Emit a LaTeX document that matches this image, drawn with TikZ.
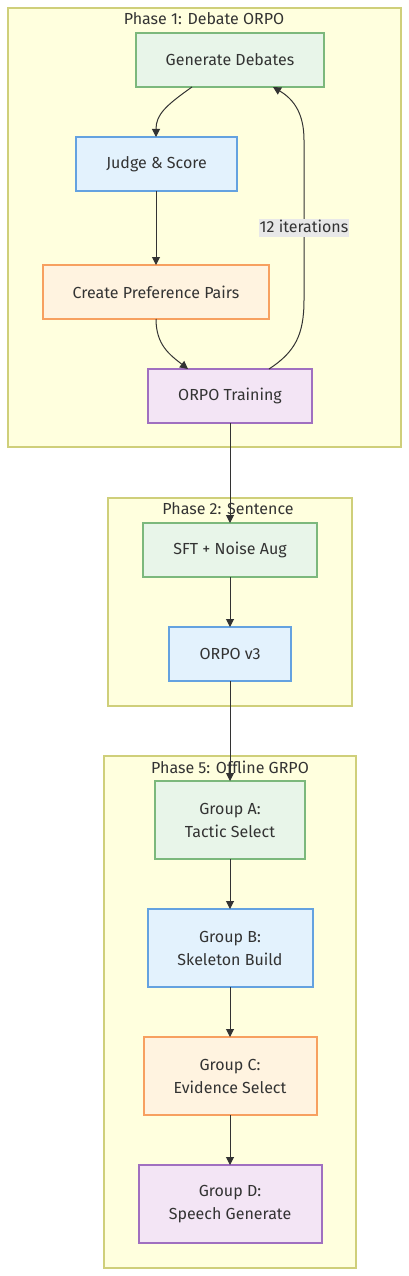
\documentclass[tikz,border=0pt]{standalone}
\usepackage{fontspec}
\setmainfont{Fira Sans}
\usetikzlibrary{arrows.meta}
\definecolor{clfill}{HTML}{FFFFDE}
\definecolor{cldraw}{HTML}{CFCF7A}
\definecolor{gfill}{HTML}{E8F5E9}
\definecolor{gdraw}{HTML}{7CB87C}
\definecolor{bfill}{HTML}{E3F2FD}
\definecolor{bdraw}{HTML}{64A2E0}
\definecolor{ofill}{HTML}{FFF3E0}
\definecolor{odraw}{HTML}{F7A060}
\definecolor{pfill}{HTML}{F3E5F5}
\definecolor{pdraw}{HTML}{A070C0}
\definecolor{txt}{HTML}{333333}
\definecolor{lblbg}{HTML}{E8E8E8}
\tikzset{
  x=1pt, y=-1pt,
  every node/.style={font=\fontsize{16}{23}\selectfont, text=txt},
  cluster/.style={draw=cldraw, fill=clfill, line width=1.5pt},
  boxg/.style={draw=gdraw, fill=gfill, line width=1.6pt},
  boxb/.style={draw=bdraw, fill=bfill, line width=1.6pt},
  boxo/.style={draw=odraw, fill=ofill, line width=1.6pt},
  boxp/.style={draw=pdraw, fill=pfill, line width=1.6pt},
  conn/.style={draw=txt, line width=1pt, -{Triangle[length=8pt,width=8pt]}},
  ctitle/.style={inner sep=0pt},
  lbl/.style={fill=lblbg, inner sep=1pt, text height=12pt, text depth=4pt}
}
\begin{document}
\begin{tikzpicture}
\useasboundingbox (0,0) rectangle (409,1276);
\fill[white] (0,0) rectangle (409,1276);
% clusters
\draw[cluster] (8,8) rectangle (401,447);
\draw[cluster] (108,498) rectangle (352,706);
\draw[cluster] (104,756) rectangle (356,1268);
\node[ctitle] (t1) at (204,19) {Phase 1: Debate ORPO};
\node[ctitle] (t2) at (228,509) {Phase 2: Sentence};
\node[ctitle] (t5) at (230,767) {Phase 5: Offline GRPO};
% boxes
\path[boxg] (136,33) rectangle (324,87);
\node (gen) at (230,60) {Generate Debates};
\coordinate (genS) at (192,87);
\coordinate (genA) at (273,87);
\path[boxb] (76,137) rectangle (237,191);
\node (judge) at (156.5,164) {Judge \& Score};
\path[boxo] (43,265) rectangle (269,319);
\node (pref) at (156,292) {Create Preference Pairs};
\path[boxp] (148,369) rectangle (312,423);
\node (orpo) at (230,396) {ORPO Training};
\path[boxg] (143,523) rectangle (317,577);
\node (sft) at (230,550) {SFT + Noise Aug};
\path[boxb] (169,627) rectangle (291,681);
\node (v3) at (230,654) {ORPO v3};
\path[boxg] (155,781) rectangle (305,859);
\node[align=center] (ga) at (230,820) {Group A:\\Tactic Select};
\path[boxb] (148,909) rectangle (313,987);
\node[align=center] (gb) at (230,948) {Group B:\\Skeleton Build};
\path[boxo] (144,1037) rectangle (317,1115);
\node[align=center] (gc) at (230,1076) {Group C:\\Evidence Select};
\path[boxp] (139,1165) rectangle (322,1243);
\node[align=center] (gd) at (230,1204) {Group D:\\Speech Generate};
% anchors
\coordinate (judgeN) at (156,137);
\coordinate (judgeS) at (156,191);
\coordinate (prefN) at (156,265);
\coordinate (prefS) at (156,319);
\coordinate (orpoN) at (188,369);
\coordinate (orpoL) at (269,369);
\coordinate (orpoS) at (230,423);
\coordinate (sftN) at (230,523);
\coordinate (sftS) at (230,577);
\coordinate (v3N) at (230,627);
\coordinate (v3S) at (230,681);
\coordinate (gaN) at (230,781);
\coordinate (gaS) at (230,859);
\coordinate (gbN) at (230,909);
\coordinate (gbS) at (230,987);
\coordinate (gcN) at (230,1037);
\coordinate (gcS) at (230,1115);
\coordinate (gdN) at (230,1165);
% connectors
\draw[conn] (genS) .. controls (165,106) and (156,115) .. (judgeN);
\draw[conn] (judgeS) -- (prefN);
\draw[conn] (prefS) .. controls (156,345) and (170,355) .. (orpoN);
\draw[conn] (orpoL) .. controls (295,352) and (304,335) .. (304,300) -- (304,140) .. controls (304,115) and (295,100) .. (genA);
\node[lbl] (iter) at (304,228) {12 iterations};
\draw[conn] (orpoS) -- (sftN);
\draw[conn] (sftS) -- (v3N);
\draw[conn] (v3S) -- (gaN);
\draw[conn] (gaS) -- (gbN);
\draw[conn] (gbS) -- (gcN);
\draw[conn] (gcS) -- (gdN);
\end{tikzpicture}
\end{document}
